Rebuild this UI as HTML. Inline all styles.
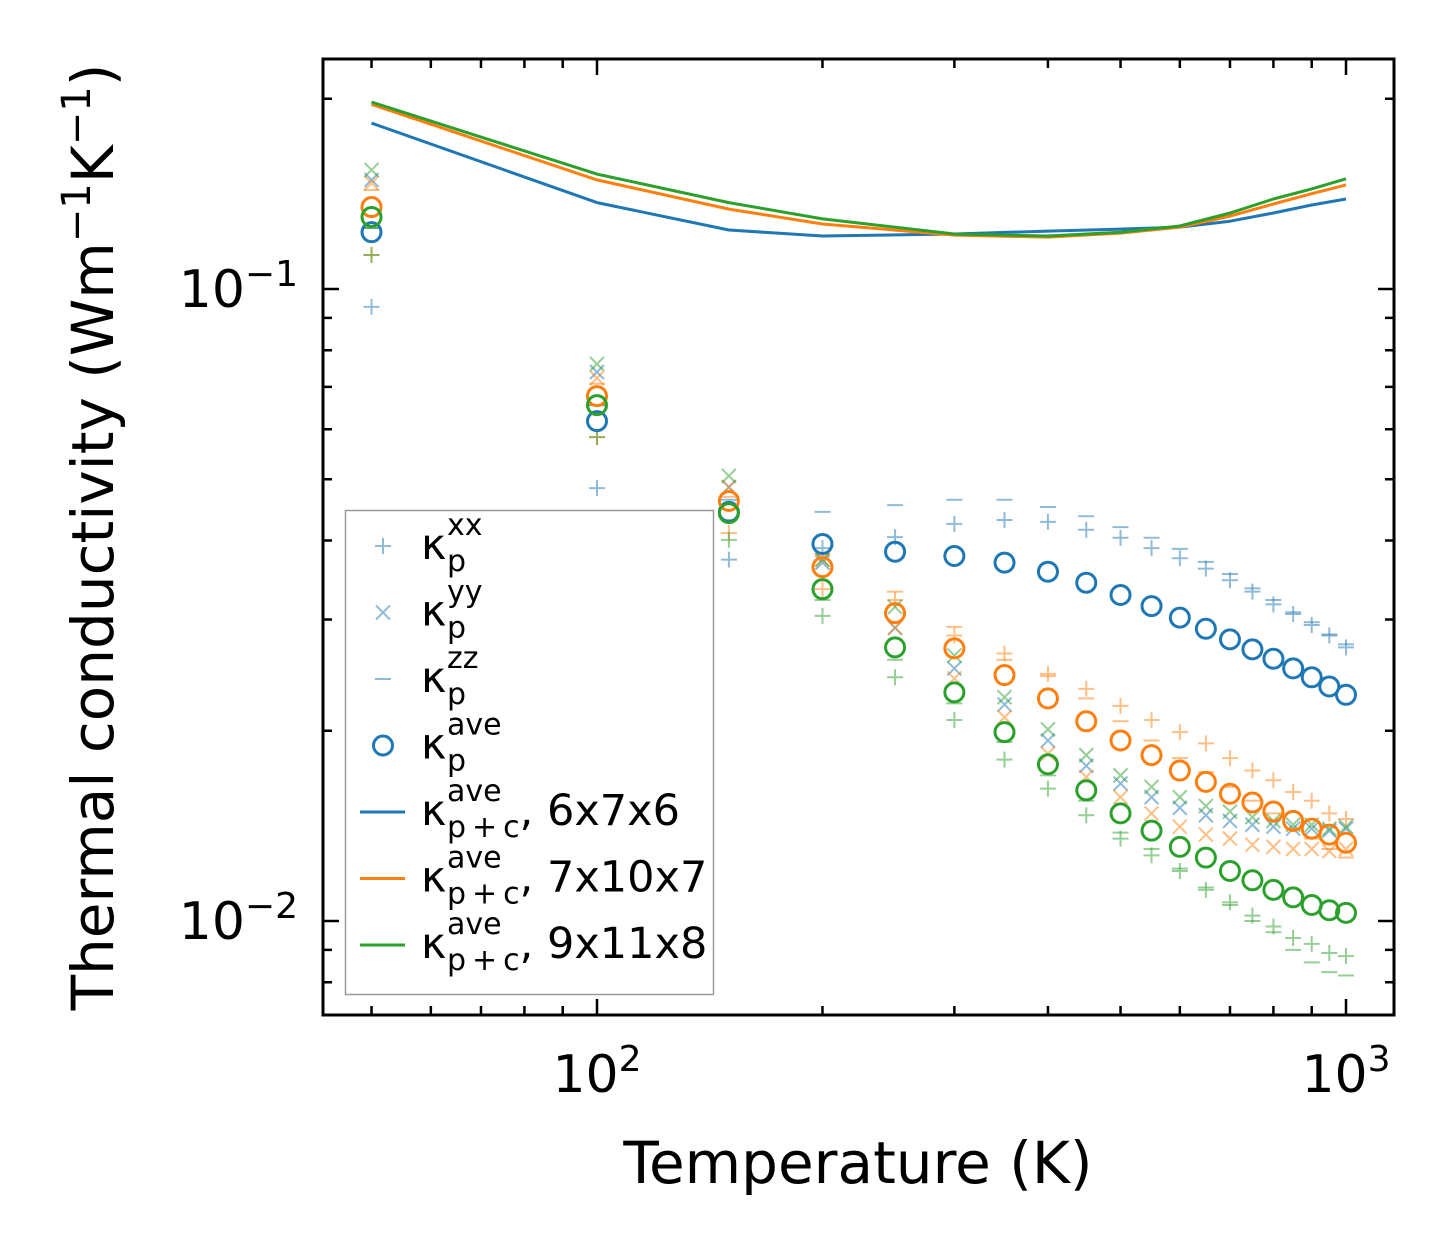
<!DOCTYPE html>
<html><head><meta charset="utf-8"><style>
body{margin:0;background:#fff;}
svg text{font-family:"DejaVu Sans","Liberation Sans",sans-serif;}
</style></head><body>
<svg id="chart" width="1454" height="1254" viewBox="0 0 1454 1254" xmlns="http://www.w3.org/2000/svg">
<rect width="1454" height="1254" fill="#fff"/>
<g id="marks"></g>
<g id="axes"></g>
<g id="legend"></g>
</svg>
<script>
const temps = [50,100,150,200,250,300,350,400,450,500,550,600,650,700,750,800,850,900,950,1000];
const blueXX = [0.0937,0.0484,0.0373,0.0389,0.0405,0.0425,0.0431,0.0428,0.0416,0.0404,0.0389,0.0375,0.0361,0.0346,0.0332,0.0317,0.0306,0.0294,0.0283,0.0271];
const blueYY = [0.1488,0.0739,0.0486,0.0369,0.0291,0.0251,0.0220,0.0193,0.0176,0.0165,0.0157,0.0151,0.0147,0.0144,0.0142,0.0141,0.0140,0.0140,0.0139,0.0140];
const blueZZ = [0.1249,0.0655,0.0464,0.0444,0.0455,0.0464,0.0464,0.0452,0.0437,0.0420,0.0404,0.0388,0.0370,0.0354,0.0336,0.0322,0.0308,0.0297,0.0284,0.0274];
const blueAve = [0.123,0.0618,0.0444,0.0395,0.0384,0.0378,0.0369,0.0357,0.0343,0.0328,0.0315,0.0302,0.0290,0.0279,0.0269,0.0260,0.0251,0.0243,0.0235,0.0228];
const orangeXX = [0.1132,0.0583,0.0411,0.0335,0.0322,0.0283,0.0265,0.0246,0.0233,0.0219,0.0208,0.0199,0.0191,0.0181,0.0173,0.0167,0.0160,0.0155,0.0148,0.0145];
const orangeYY = [0.1471,0.0723,0.0486,0.0373,0.0291,0.0242,0.0210,0.0184,0.0169,0.0157,0.0148,0.0141,0.0137,0.0135,0.0132,0.0131,0.0130,0.0130,0.0129,0.0130];
const orangeZZ = [0.1434,0.0708,0.0469,0.0380,0.0332,0.0292,0.0259,0.0244,0.0225,0.0207,0.0193,0.0181,0.0172,0.0163,0.0155,0.0148,0.0140,0.0135,0.0130,0.0126];
const orangeAve = [0.1348,0.0677,0.0462,0.0363,0.0307,0.0270,0.0245,0.0225,0.0207,0.0193,0.0183,0.0173,0.0166,0.0159,0.0154,0.0149,0.0144,0.0140,0.0137,0.0133];
const greenXX = [0.1132,0.0583,0.0401,0.0304,0.0243,0.0208,0.0180,0.0162,0.0147,0.0135,0.0127,0.0120,0.0112,0.0107,0.0102,0.0098,0.0094,0.0092,0.0089,0.0088];
const greenYY = [0.1543,0.0761,0.0506,0.0373,0.0314,0.0263,0.0226,0.0201,0.0183,0.0170,0.0163,0.0157,0.0152,0.0149,0.0146,0.0144,0.0142,0.0142,0.0140,0.0141];
const greenZZ = [0.1249,0.0655,0.0431,0.0322,0.0259,0.0221,0.0192,0.0170,0.0155,0.0138,0.0130,0.0121,0.0113,0.0106,0.0100,0.0096,0.0090,0.0086,0.0083,0.0082];
const greenAve = [0.130,0.0655,0.0442,0.0335,0.0271,0.0230,0.0199,0.0177,0.0161,0.0148,0.0139,0.0131,0.0126,0.0120,0.0116,0.0112,0.0109,0.0106,0.0104,0.0103];
const lineTemps = [50,100,150,200,300,400,500,600,700,800,900,1000];
const line676 = [0.183,0.137,0.124,0.1213,0.1222,0.1235,0.1244,0.1253,0.128,0.1319,0.1358,0.1388];
const line7107 = [0.196,0.1488,0.1338,0.1267,0.1217,0.1208,0.1226,0.1253,0.1304,0.1363,0.1415,0.1461];
const line9118 = [0.1976,0.1520,0.137,0.1291,0.1222,0.1213,0.123,0.1258,0.1319,0.1388,0.1440,0.1494];
const xMajor = [100,1000];
const xMinor = [50,60,70,80,90,200,300,400,500,600,700,800,900];
const yMajor = [0.01,0.1];
const yMinor = [0.008,0.009,0.02,0.03,0.04,0.05,0.06,0.07,0.08,0.09,0.2];

const NS="http://www.w3.org/2000/svg";
const L=323,R=1394,T=59,B=1015;
function xs(v){return 597+749*(Math.log10(v)-2);}
function ys(v){return 289-632*(Math.log10(v)+1);}
function mk(tag,attrs,parent){const e=document.createElementNS(NS,tag);for(const k in attrs)e.setAttribute(k,attrs[k]);parent.appendChild(e);return e;}
const C={blue:'#1f77b4',orange:'#ff7f0e',green:'#2ca02c'};
const marks=document.getElementById('marks');

function drawMarker(g,type,cx,cy,col,alpha){
  let e;
  if(type==='plus'){e=mk('path',{d:`M${cx-8} ${cy}H${cx+8}M${cx} ${cy-8}V${cy+8}`,stroke:col,'stroke-width':2,'stroke-opacity':alpha,fill:'none'},g);}
  else if(type==='cross'){e=mk('path',{d:`M${cx-7} ${cy-7}L${cx+7} ${cy+7}M${cx-7} ${cy+7}L${cx+7} ${cy-7}`,stroke:col,'stroke-width':2,'stroke-opacity':alpha,fill:'none'},g);}
  else if(type==='hline'){e=mk('path',{d:`M${cx-8} ${cy}H${cx+8}`,stroke:col,'stroke-width':2,'stroke-opacity':alpha,fill:'none'},g);}
  else {e=mk('circle',{cx:cx,cy:cy,r:9.5,stroke:col,'stroke-width':3,fill:'none'},g);}
  return e;
}
function scatter(vals,type,col,alpha,name){
  const g=mk('g',{},marks);
  
  
  vals.forEach((v,i)=>{
    const e=drawMarker(g,type,xs(temps[i]),ys(v),col,alpha);
    
    
  });
}
function line(vals,col,name){
  const d=vals.map((v,i)=>(i?'L':'M')+xs(lineTemps[i]).toFixed(1)+' '+ys(v).toFixed(1)).join('');
  const e=mk('path',{d:d,stroke:col,'stroke-width':3,fill:'none','stroke-linejoin':'round'},marks);
  
  
}
const cp=mk('clipPath',{id:'clip'},document.getElementById('chart'));
mk('rect',{x:L,y:T,width:R-L,height:B-T},cp);
marks.setAttribute('clip-path','url(#clip)');

scatter(blueXX,'plus',C.blue,0.5,'blue-kxx');
scatter(blueYY,'cross',C.blue,0.5,'blue-kyy');
scatter(blueZZ,'hline',C.blue,0.5,'blue-kzz');
scatter(orangeXX,'plus',C.orange,0.5,'orange-kxx');
scatter(orangeYY,'cross',C.orange,0.5,'orange-kyy');
scatter(orangeZZ,'hline',C.orange,0.5,'orange-kzz');
scatter(greenXX,'plus',C.green,0.5,'green-kxx');
scatter(greenYY,'cross',C.green,0.5,'green-kyy');
scatter(greenZZ,'hline',C.green,0.5,'green-kzz');
scatter(blueAve,'circle',C.blue,1,'blue-kave');
scatter(orangeAve,'circle',C.orange,1,'orange-kave');
scatter(greenAve,'circle',C.green,1,'green-kave');
line(line676,C.blue,'line-6x7x6');
line(line7107,C.orange,'line-7x10x7');
line(line9118,C.green,'line-9x11x8');

// axes
const ax=document.getElementById('axes');
const frame=mk('rect',{x:L,y:T,width:R-L,height:B-T,fill:'none',stroke:'#000','stroke-width':3},ax);


let td='';
xMajor.forEach(v=>{const x=xs(v);td+=`M${x} ${B}v-16M${x} ${T}v16`;});
xMinor.forEach(v=>{const x=xs(v);if(x>L&&x<R)td+=`M${x} ${B}v-9M${x} ${T}v9`;});
yMajor.forEach(v=>{const y=ys(v);td+=`M${L} ${y}h16M${R} ${y}h-16`;});
yMinor.forEach(v=>{const y=ys(v);if(y>T&&y<B)td+=`M${L} ${y}h9M${R} ${y}h-9`;});
const ticks=mk('path',{d:td,stroke:'#000','stroke-width':2.5,fill:'none'},ax);


xMajor.forEach(v=>{
  const t=mk('text',{x:xs(v),y:1092,'font-size':52,'text-anchor':'middle'},ax);
  
  
  t.innerHTML='10<tspan font-size="36" dy="-21">'+Math.round(Math.log10(v))+'</tspan>';
});
yMajor.forEach(v=>{
  const t=mk('text',{x:298,y:ys(v)+18,'font-size':52,'text-anchor':'end'},ax);
  
  
  t.innerHTML='10<tspan font-size="36" dy="-21">\u2212'+Math.abs(Math.round(Math.log10(v)))+'</tspan>';
});
const xt=mk('text',{x:858,y:1183,'font-size':58,'text-anchor':'middle'},ax);


xt.textContent='Temperature (K)';
const yt=mk('text',{x:0,y:0,'font-size':58,'text-anchor':'middle',transform:'translate(113,537) rotate(-90)'},ax);


yt.innerHTML='Thermal conductivity (Wm<tspan font-size="40" dy="-23">\u22121</tspan><tspan dy="23">K</tspan><tspan font-size="40" dy="-23">\u22121</tspan><tspan dy="23">)</tspan>';

// legend
const lg=document.getElementById('legend');
const box=mk('rect',{x:345.5,y:510.5,width:368,height:484,fill:'#fff','fill-opacity':0.8,stroke:'#999','stroke-width':1.5},lg);


const entries=[
 {t:'plus',c:C.blue,a:0.5,sup:'xx',sub:'p',extra:''},
 {t:'cross',c:C.blue,a:0.5,sup:'yy',sub:'p',extra:''},
 {t:'hline',c:C.blue,a:0.5,sup:'zz',sub:'p',extra:''},
 {t:'circle',c:C.blue,a:1,sup:'ave',sub:'p',extra:''},
 {t:'line',c:C.blue,a:1,sup:'ave',sub:'p\u2009+\u2009c',extra:', 6x7x6'},
 {t:'line',c:C.orange,a:1,sup:'ave',sub:'p\u2009+\u2009c',extra:', 7x10x7'},
 {t:'line',c:C.green,a:1,sup:'ave',sub:'p\u2009+\u2009c',extra:', 9x11x8'}
];
entries.forEach((en,i)=>{
  const cy=546+66.5*i;
  const g=mk('g',{},lg);
  
  
  if(en.t==='line') mk('path',{d:`M360 ${cy+265-265+264-264}H405`.replace('H405','H405'),stroke:en.c,'stroke-width':3},g);
  else drawMarker(g,en.t,383,cy,en.c,en.a);
  const tx=mk('text',{x:421,y:cy+13,'font-size':43},g);
  tx.innerHTML='\u03ba<tspan x="447" dy="-24" font-size="30">'+en.sup+'</tspan><tspan x="447" dy="36" font-size="30">'+en.sub+'</tspan><tspan dy="-12">'+en.extra+'</tspan>';
});
</script>
</body></html>
